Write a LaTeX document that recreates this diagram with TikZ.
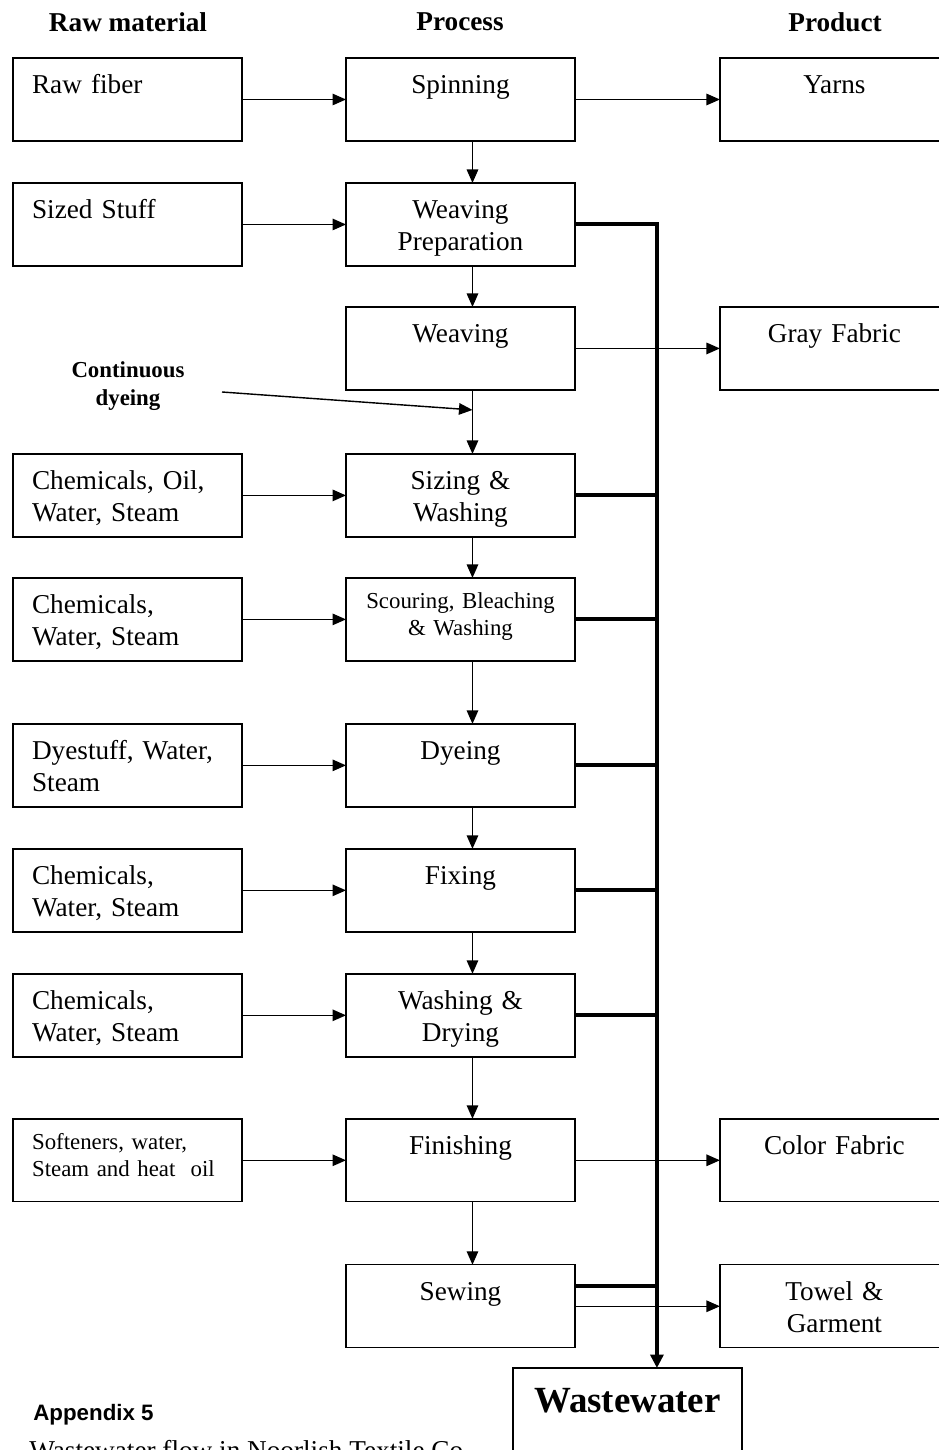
\documentclass[tikz,border=0pt]{standalone}
\usepackage{fontspec}
\setmainfont{Liberation Serif}
\newfontfamily\arialfont{Liberation Sans}
\usetikzlibrary{positioning,arrows.meta}

\tikzset{
  stage/.style={draw, line width=0.8pt, inner sep=0pt, outer sep=0pt, text width=4.58cm, align=center,
    text height=0.72cm, text depth=0.94cm},
  input/.style={stage, inner xsep=0.38cm, text width=3.82cm, align=left},
  small/.style={font=\fontsize{13}{15.3}\selectfont, text height=0.62cm, text depth=1.04cm},
  head/.style={font=\bfseries\fontsize{15.5}{18}\selectfont},
  arr/.style={line width=0.8pt, -{Triangle[length=0.27cm,width=0.23cm]}},
  drain/.style={line width=2.3pt},
}

\begin{document}
\begin{tikzpicture}[x=0.02cm,y=-0.02cm,font=\fontsize{15.5}{18.1}\selectfont]
  \useasboundingbox (0,0) rectangle (939,1450);
  \clip (0,0) rectangle (939,1450);

  % column heads
  \node[head] (hraw) at (128,22) {Raw material};
  \node[head] (hproc) at (460,22) {Process};
  \node[head] (hprod) at (835,22) {Product};

  % process chain
  \node[stage, anchor=north west] (spin) at (346,58) {Spinning};
  \node[stage, below=0.84cm of spin] (wprep) {Weaving\\Preparation};
  \node[stage, below=0.82cm of wprep] (weave) {Weaving};
  \node[stage, below=1.28cm of weave] (sizing) {Sizing \&\\Washing};
  \node[stage, small, below=0.82cm of sizing] (scour) {Scouring, Bleaching\\\& Washing};
  \node[stage, below=1.26cm of scour] (dye) {Dyeing};
  \node[stage, below=0.84cm of dye] (fix) {Fixing};
  \node[stage, below=0.84cm of fix] (wash) {Washing \&\\Drying};
  \node[stage, below=1.24cm of wash] (finish) {Finishing};
  \node[stage, below=1.26cm of finish] (sew) {Sewing};

  % raw materials
  \node[input, left=2.08cm of spin] (fiber) {Raw fiber};
  \node[input, left=2.08cm of wprep] (sized) {Sized Stuff};
  \node[input, left=2.08cm of sizing] (chemA) {Chemicals, Oil,\\Water, Steam};
  \node[input, left=2.08cm of scour] (chemB) {Chemicals,\\Water, Steam};
  \node[input, left=2.08cm of dye] (dyestuff) {Dyestuff, Water,\\Steam};
  \node[input, left=2.08cm of fix] (chemC) {Chemicals,\\Water, Steam};
  \node[input, left=2.08cm of wash] (chemD) {Chemicals,\\Water, Steam};
  \node[input, small, left=2.08cm of finish] (soft) {Softeners, water,\\Steam and heat\ \ oil};

  % products
  \node[stage, right=2.9cm of spin] (yarn) {Yarns};
  \node[stage, right=2.9cm of weave] (gray) {Gray Fabric};
  \node[stage, right=2.9cm of finish] (color) {Color Fabric};
  \node[stage, right=2.9cm of sew] (towel) {Towel \&\\Garment};

  \node[stage, anchor=north west, font=\bfseries\fontsize{21}{25}\selectfont,
    text height=0.88cm, text depth=0.78cm] (waste) at (513,1368) {Wastewater};

  \node[font=\bfseries\fontsize{13}{15.9}\selectfont, align=center] (cdtext) at (128,386) {Continuous\\dyeing};
  \coordinate (cdstart) at (222,392);

  \node[anchor=base west, inner sep=0pt, font=\arialfont\bfseries\fontsize{12.7}{15}\selectfont] (appx) at (33,1420) {Appendix 5};
  \node[anchor=base west, inner sep=0pt] (caption) at (29,1459) {Wastewater flow in Noorlish Textile Co};

  % inputs and outputs
  \foreach \a/\b in {fiber/spin, sized/wprep, chemA/sizing, chemB/scour, dyestuff/dye,
                     chemC/fix, chemD/wash, soft/finish, spin/yarn, weave/gray, finish/color}
    \draw[arr] (\a) -- (\b);
  \draw[arr] (sew) -- (towel);

  % main flow
  \foreach \a/\b in {spin/wprep, wprep/weave, sizing/scour, scour/dye, dye/fix,
                     fix/wash, wash/finish, finish/sew}
    \draw[arr] ([xshift=0.24cm]\a.south) -- ([xshift=0.24cm]\b.north);
  \draw[arr] ([xshift=0.24cm]weave.south) -- ([xshift=0.24cm]sizing.north);
  \coordinate (cdend) at ([xshift=0.24cm,yshift=0.88cm]sizing.north);
  \draw[arr] (cdstart) -- (cdend);

  % wastewater drain
  \coordinate (bus) at ([xshift=1.64cm]wprep.east);
  \draw[drain, -{Triangle[length=0.27cm,width=0.26cm]}] (wprep.east) -- (bus) -- (bus |- waste.north);
  \foreach \n in {sizing, scour, dye, fix, wash}
    \draw[drain] (\n.east) -- (\n.east -| bus);
  \draw[drain] ([yshift=0.41cm]sew.east) -- ([yshift=0.41cm]sew.east -| bus);
\end{tikzpicture}
\end{document}
